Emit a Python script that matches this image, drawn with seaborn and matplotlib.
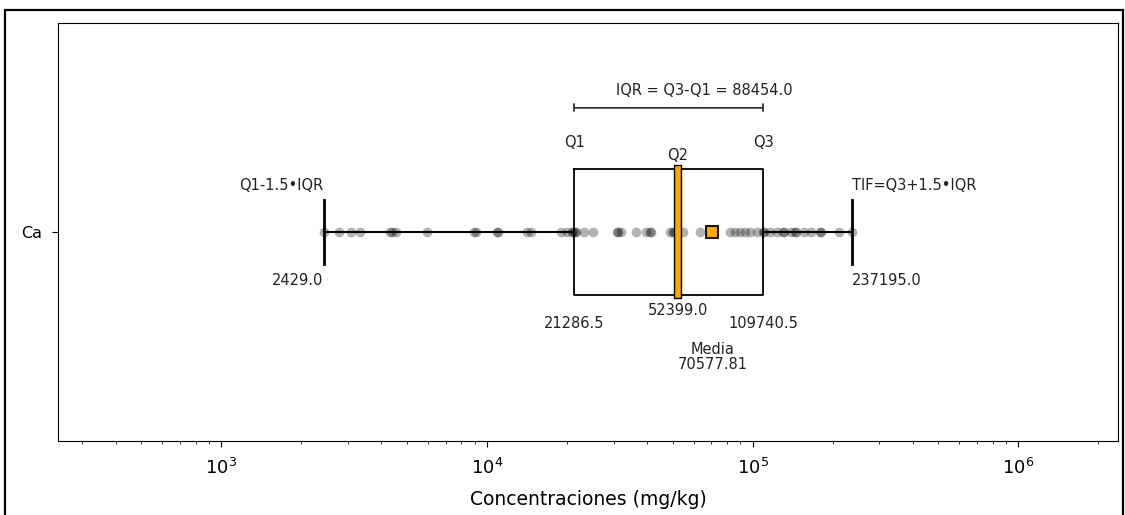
import numpy as np
import pandas as pd
import matplotlib
matplotlib.use("Agg")
import matplotlib.pyplot as plt
import matplotlib.patheffects as pe
from matplotlib.patches import Rectangle
import seaborn as sns

# Element and its sample concentrations (mg/kg)
element = "Ca"
concentrations = [
    2429, 2780, 3080, 3340, 4300, 4400, 4560, 5930,
    8900, 9100, 10900, 11050, 14100, 14600,
    18950, 20090, 20900, 21050, 21500, 21700, 23230, 24990,
    30900, 31200, 31900, 36480, 39800, 41200, 41600,
    48740, 50000, 50400, 54790, 63420,
    82330, 85990, 89800, 93780, 97940, 103500,
    109800, 110400, 116700, 123300, 130500, 131300, 138900,
    144800, 145400, 156100, 165300, 180000, 180600, 211700, 237195,
]

# Summary statistics of the distribution
q1 = 21286.5
median = 52399.0
q3 = 109740.5
mean = 70577.81
whisker_low = 2429.0
whisker_high = 237195.0
iqr = q3 - q1

W, H, DPI = 1125, 515, 100
fig = plt.figure(figsize=(W / DPI, H / DPI), dpi=DPI)
ax = fig.add_axes([58 / W, 1 - 441 / H, 1060 / W, 418 / H])
ax.set_xscale("log")

df = pd.DataFrame({"valor": concentrations, "elemento": [element] * len(concentrations)})
sns.stripplot(data=df, x="valor", y="elemento", orient="h", jitter=False,
              color="black", alpha=0.3, size=7, linewidth=0, ax=ax, zorder=3)

stats = [dict(med=median, q1=q1, q3=q3, whislo=whisker_low, whishi=whisker_high,
              mean=mean, fliers=[], label=element)]
ax.bxp(stats, positions=[0], widths=0.3, orientation="horizontal",
       showmeans=True, capwidths=0.155, manage_ticks=False,
       boxprops=dict(color="black", linewidth=1.3),
       whiskerprops=dict(color="black", linewidth=1.5),
       capprops=dict(color="black", linewidth=2),
       medianprops=dict(color="orange", linewidth=4, solid_capstyle="projecting", zorder=4,
                        path_effects=[pe.Stroke(linewidth=6, foreground="black"), pe.Normal()]),
       meanprops=dict(marker="s", markerfacecolor="orange", markeredgecolor="black",
                      markeredgewidth=1.3, markersize=8.5, zorder=5))

ax.set_xlim(whisker_low / 10, whisker_high * 10)
ax.set_ylim(0.5, -0.5)
ax.set_yticks([0])
ax.set_yticklabels([element])
ax.set_ylabel("")
ax.set_xlabel("Concentraciones (mg/kg)", fontsize=13.5, labelpad=8)
ax.tick_params(axis="x", which="major", labelsize=13, pad=8, length=4.5)
ax.tick_params(axis="x", which="minor", length=2.5)
ax.tick_params(axis="y", labelsize=11.5, pad=7, length=4.5)

fs = 10.5
tc = "#222222"
# IQR bracket
ax.annotate("", xy=(q1, -0.297), xytext=(q3, -0.297),
            arrowprops=dict(arrowstyle="|-|,widthA=0.25,widthB=0.25", color="#333333", lw=1.3,
                            shrinkA=0, shrinkB=0))
ax.text((q1 + q3) / 2, -0.338, f"IQR = Q3-Q1 = {iqr:.1f}", ha="center", va="center", fontsize=fs, color=tc)
ax.text(q1, -0.213, "Q1", ha="center", va="center", fontsize=fs, color=tc)
ax.text(q3, -0.213, "Q3", ha="center", va="center", fontsize=fs, color=tc)
ax.text(median, -0.182, "Q2", ha="center", va="center", fontsize=fs, color=tc)
ax.text(whisker_low, -0.112, "Q1-1.5\u2022IQR", ha="right", va="center", fontsize=fs, color=tc)
ax.text(whisker_high, -0.112, "TIF=Q3+1.5\u2022IQR", ha="left", va="center", fontsize=fs, color=tc)
ax.text(whisker_low, 0.117, f"{whisker_low:.1f}", ha="right", va="center", fontsize=fs, color=tc)
ax.text(whisker_high, 0.117, f"{whisker_high:.1f}", ha="left", va="center", fontsize=fs, color=tc)
ax.text(q1, 0.218, f"{q1:.1f}", ha="center", va="center", fontsize=fs, color=tc)
ax.text(q3, 0.218, f"{q3:.1f}", ha="center", va="center", fontsize=fs, color=tc)
ax.text(median, 0.187, f"{median:.1f}", ha="center", va="center", fontsize=fs, color=tc)
ax.text(mean, 0.300, f"Media\n{mean:.2f}", ha="center", va="center", fontsize=fs, color=tc,
        linespacing=1.0)

# Outer frame around the figure
fig.patches.append(Rectangle((5 / W, -0.05), 1118 / W, 1 - 10 / H + 0.05, transform=fig.transFigure,
                             fill=False, edgecolor="black", linewidth=1.6))

fig.savefig("out.png", dpi=DPI)
